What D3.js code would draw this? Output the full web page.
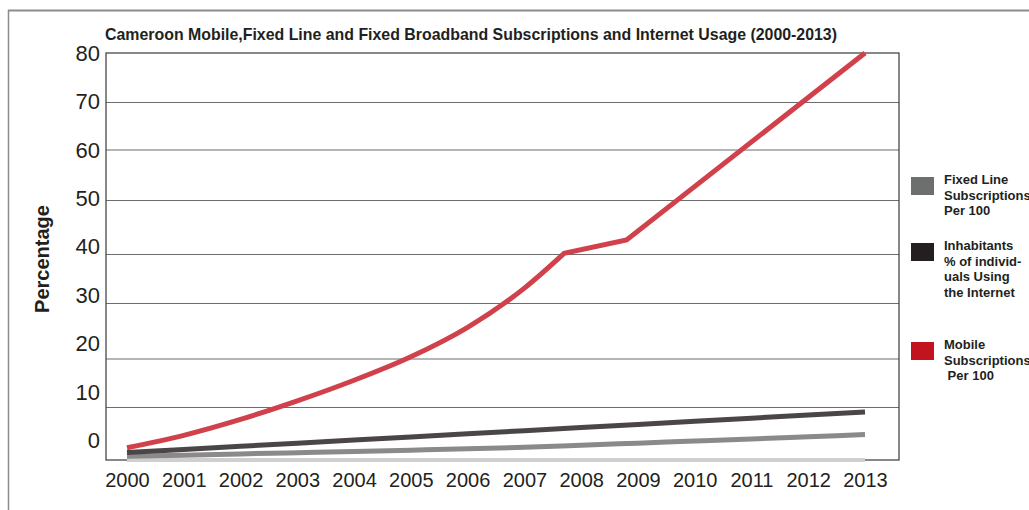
<!DOCTYPE html>
<html>
<head>
<meta charset="utf-8">
<script src="https://cdn.jsdelivr.net/npm/d3@7"></script>
<style>
  body { margin: 0; background: #fff; }
  text { font-family: "Liberation Sans", Arial, Helvetica, sans-serif; fill: #231f20; }
</style>
</head>
<body>
<div id="chart"></div>
<script>
// ---- data ----
const years = [2000, 2001, 2002, 2003, 2004, 2005, 2006, 2007, 2008, 2009, 2010, 2011, 2012, 2013];
const yTicks = [0, 10, 20, 30, 40, 50, 60, 70, 80];

// mobile: smooth growth to mid-2007, then two kinks and a straight run to 2013
const mobileCurveYears = [2000, 2001, 2002, 2003, 2004, 2005, 2006, 2007, 2007.7];
const mobileCurve = [2.3, 4.66, 7.66, 11.26, 15.51, 20.31, 25.62, 33.04, 40.13];
const mobileLinYears = [2007.7, 2008.8, 2013];
const mobileLin = [40.13, 42.6, 80];

const internet = [1.40, 1.99, 2.58, 3.17, 3.76, 4.35, 4.94, 5.53, 6.12, 6.71, 7.30, 7.89, 8.48, 9.07];
const fixedLine = [0.7, 0.9, 1.15, 1.38, 1.61, 1.85, 2.1, 2.4, 2.78, 3.18, 3.58, 3.98, 4.39, 4.8];
const broadband = [0, 0, 0, 0, 0, 0, 0, 0, 0, 0, 0, 0, 0, 0];

const legendItems = [
  { color: "#6d6e6e", lines: ["Fixed Line", "Subscriptions", "Per 100"] },
  { color: "#231f20", lines: ["Inhabitants", "% of individ-", "uals Using", "the Internet"] },
  { color: "#c1141f", lines: ["Mobile", "Subscriptions", " Per 100"] }
];

// ---- layout ----
const W = 1029, H = 510;
const margin = { top: 53, right: 130, bottom: 50, left: 106 },
    width = W - margin.left - margin.right,
    height = H - margin.top - margin.bottom;

const svg = d3.select("#chart").append("svg")
    .attr("width", W)
    .attr("height", H);

// outer frame lines (top and left)
svg.append("line").attr("x1", 8).attr("x2", W).attr("y1", 10.5).attr("y2", 10.5)
    .attr("stroke", "#8c8c8c").attr("stroke-width", 2);
svg.append("line").attr("x1", 8.5).attr("x2", 8.5).attr("y1", 10).attr("y2", H)
    .attr("stroke", "#8c8c8c").attr("stroke-width", 1.5);

// title
svg.append("text")
    .attr("x", 105).attr("y", 40)
    .attr("font-size", 15.9).attr("font-weight", "bold")
    .text("Cameroon Mobile,Fixed Line and Fixed Broadband Subscriptions and Internet Usage (2000-2013)");

const g = svg.append("g").attr("transform", `translate(${margin.left},${margin.top})`);

// scales
const x = d3.scaleLinear().domain([2000, 2013]).range([21, 759]);
// the printed gridlines are not evenly spaced, so the y scale is piecewise
const y = d3.scaleLinear().domain(yTicks).range([407, 354, 305.5, 250, 201, 147, 96.5, 49, 0]);
// the printed tick labels drift upward from the gridlines towards the bottom
const yLabel = d3.scaleLinear().domain([0, 80]).range([height - 20, 0]);

// gridlines
g.append("g")
    .call(d3.axisLeft(y).tickValues(yTicks.slice(1, -1)).tickSize(-width).tickFormat(""))
    .call(s => s.select(".domain").remove())
    .call(s => s.selectAll(".tick line").attr("stroke", "#6d6d6d").attr("stroke-width", 1.2));

// plot frame
g.append("rect")
    .attr("x", 0).attr("y", 0).attr("width", width).attr("height", height)
    .attr("fill", "none").attr("stroke", "#3a3a3a").attr("stroke-width", 1.2);

// y labels
g.append("g")
    .selectAll("text")
    .data(yTicks)
    .join("text")
    .attr("x", -6)
    .attr("y", d => yLabel(d))
    .attr("dy", "0.36em")
    .attr("text-anchor", "end")
    .attr("font-size", 22)
    .text(d => d);

// x labels
g.append("g")
    .attr("transform", `translate(0,${height})`)
    .call(d3.axisBottom(x).tickValues(years).tickFormat(d3.format("d")).tickSize(0).tickPadding(13))
    .call(s => s.select(".domain").remove())
    .call(s => s.selectAll("text")
        .attr("font-size", 20)
        .attr("font-family", "'Liberation Sans', Arial, Helvetica, sans-serif")
        .attr("fill", "#231f20"));

// y axis title
svg.append("text")
    .attr("transform", "translate(49,259) rotate(-90)")
    .attr("text-anchor", "middle")
    .attr("font-size", 20).attr("font-weight", "bold")
    .text("Percentage");

// lines
const line = d3.line()
    .x(d => x(d[0]))
    .y(d => y(d[1]));
const smoothLine = d3.line()
    .curve(d3.curveMonotoneX)
    .x(d => x(d[0]))
    .y(d => y(d[1]));

// mobile as one path: smooth part followed by the straight part
const mobilePath = smoothLine(mobileCurveYears.map((yr, i) => [yr, mobileCurve[i]])) +
    line(mobileLinYears.map((yr, i) => [yr, mobileLin[i]])).replace(/^M/, "L");

const series = [
  { color: "#cfcfcf", width: 4, d: line(years.map((yr, i) => [yr, broadband[i]])) },
  { color: "#898a89", width: 5, d: smoothLine(years.map((yr, i) => [yr, fixedLine[i]])) },
  { color: "#4a4546", width: 5, d: line(years.map((yr, i) => [yr, internet[i]])) },
  { color: "#d1414b", width: 5, d: mobilePath }
];

g.selectAll("path.series")
    .data(series)
    .join("path")
    .attr("class", "series")
    .attr("fill", "none")
    .attr("stroke", d => d.color)
    .attr("stroke-width", d => d.width)
    .attr("d", d => d.d);

// legend
const legendTops = [177, 243, 342];
const legend = svg.append("g");
legendItems.forEach((item, i) => {
  const top = legendTops[i];
  legend.append("rect")
      .attr("x", 911).attr("y", top).attr("width", 23).attr("height", 18)
      .attr("fill", item.color);
  legend.append("text")
      .attr("x", 944).attr("y", top + 7)
      .attr("font-size", 13).attr("font-weight", "bold")
      .style("white-space", "pre")
      .selectAll("tspan")
      .data(item.lines)
      .join("tspan")
      .attr("x", 944)
      .attr("dy", (d, j) => j === 0 ? "0" : "15.5")
      .text(d => d);
});
</script>
</body>
</html>
